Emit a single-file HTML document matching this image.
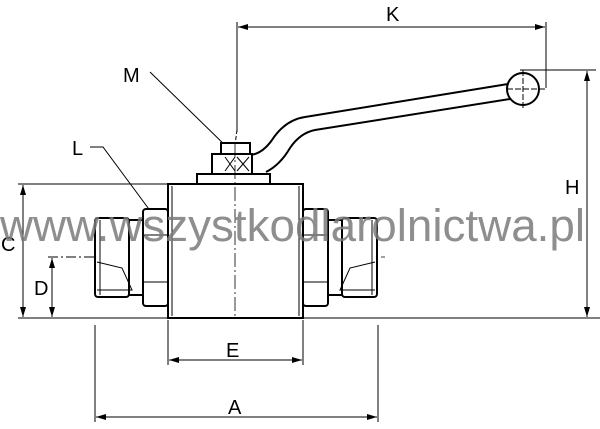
<!DOCTYPE html>
<html><head><style>
html,body{margin:0;padding:0;background:#fff;width:600px;height:429px;overflow:hidden}
svg{display:block}
text{font-family:"Liberation Sans",sans-serif}
</style></head><body>
<svg width="600" height="429" viewBox="0 0 600 429" xmlns="http://www.w3.org/2000/svg">
<defs>
<marker id="ar" markerWidth="10" markerHeight="6" refX="10" refY="3" orient="auto-start-reverse" markerUnits="userSpaceOnUse">
<path d="M0,0 L10,3 L0,6 z" fill="#000"/></marker>
</defs>
<g stroke="#000" fill="none" stroke-width="1">
<line x1="18" y1="184" x2="168" y2="184"/>
<line x1="18" y1="318" x2="600" y2="318"/>
<line x1="48" y1="257" x2="95" y2="257" stroke-dasharray="10,3,2,3"/>
<line x1="95" y1="257" x2="385" y2="257" stroke-dasharray="18,3,2,3" stroke-width="0.8"/>
<line x1="520" y1="70" x2="596" y2="70"/>
<line x1="237" y1="22" x2="237" y2="132"/>
<line x1="546" y1="22" x2="546" y2="88"/>
<line x1="168" y1="320" x2="168" y2="365"/>
<line x1="303" y1="320" x2="303" y2="365"/>
<line x1="95" y1="325" x2="95" y2="422"/>
<line x1="378" y1="325" x2="378" y2="422"/>
<line x1="23" y1="185" x2="23" y2="317" marker-start="url(#ar)" marker-end="url(#ar)"/>
<line x1="52" y1="258" x2="52" y2="317" marker-start="url(#ar)" marker-end="url(#ar)"/>
<line x1="587" y1="71" x2="587" y2="317" marker-start="url(#ar)" marker-end="url(#ar)"/>
<line x1="238" y1="27" x2="545" y2="27" marker-start="url(#ar)" marker-end="url(#ar)"/>
<line x1="169" y1="360" x2="302" y2="360" marker-start="url(#ar)" marker-end="url(#ar)"/>
<line x1="96" y1="417" x2="377" y2="417" marker-start="url(#ar)" marker-end="url(#ar)"/>
<polyline points="90,147 103,147 157,220"/>
<line x1="150" y1="72" x2="230" y2="150"/>
<line x1="237" y1="130" x2="233" y2="160" stroke-dasharray="4,2"/>
</g>
<g stroke="#000" fill="#fff" stroke-width="2">
<path d="M250,155 Q262,154 272,140 Q285,120 305,117 L508,84 M266,172 Q280,165 290,148 Q300,133 315,130 L510,99" fill="none"/>
<circle cx="523" cy="89" r="16"/>
<rect x="197" y="174" width="73" height="10"/>
<rect x="212" y="154" width="40" height="20"/>
<rect x="221" y="143" width="29" height="11"/>
<rect x="143" y="209" width="25" height="97" rx="3"/>
<rect x="128" y="220" width="15" height="75"/>
<rect x="95" y="218" width="34" height="79" rx="3"/>
<rect x="303" y="209" width="25" height="97" rx="3"/>
<rect x="328" y="220" width="15" height="75"/>
<rect x="342" y="218" width="35" height="79" rx="3"/>
<rect x="168" y="184" width="135" height="134"/>
</g>
<g stroke="#000" fill="none" stroke-width="1">
<line x1="172" y1="186" x2="172" y2="316"/><line x1="299" y1="186" x2="299" y2="316"/>
<line x1="235" y1="143" x2="235" y2="318" stroke-dasharray="14,3,2,3" stroke-width="0.8"/>
<line x1="143" y1="235" x2="168" y2="235"/><line x1="143" y1="282" x2="168" y2="282"/>
<line x1="303" y1="235" x2="328" y2="235"/><line x1="303" y1="282" x2="328" y2="282"/>
<line x1="100" y1="220" x2="100" y2="295"/><line x1="372" y1="220" x2="372" y2="295"/>
<path d="M97,262 L122,268 L132,290 L97,290 M375,262 L350,268 L340,290 L375,290"/>
<path d="M225,157 l10,14 M235,157 l-10,14 M237,157 l12,14 M249,157 l-12,14"/>
<line x1="507" y1="89" x2="545" y2="89" stroke-dasharray="6,2"/>
<line x1="523" y1="70" x2="523" y2="110" stroke-dasharray="6,2"/>
</g>
<g fill="#000" font-size="20">
<text x="386" y="21">K</text>
<text x="123" y="82">M</text>
<text x="72" y="155">L</text>
<text x="565" y="194">H</text>
<text x="1" y="251">C</text>
<text x="34" y="295">D</text>
<text x="226" y="357">E</text>
<text x="228" y="414">A</text>
</g>
<text x="0" y="241" font-size="45" fill="#7a7a7a" fill-opacity="0.85" textLength="585" lengthAdjust="spacingAndGlyphs">www.wszystkodlarolnictwa.pl</text>
</svg>
</body></html>
